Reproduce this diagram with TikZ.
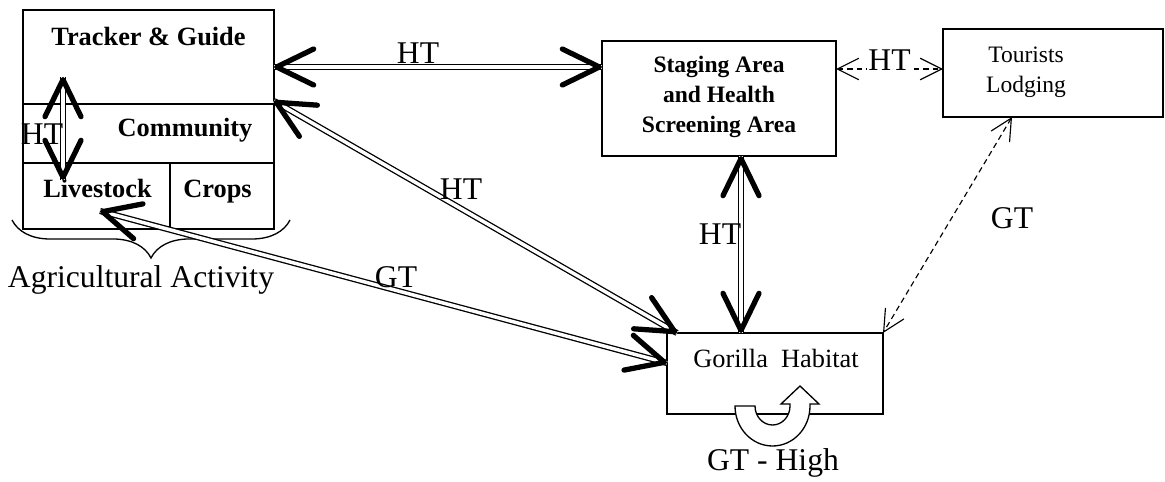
\documentclass[tikz,border=0pt]{standalone}
\usepackage{fontspec}
\setmainfont{Liberation Serif}
\usetikzlibrary{arrows.meta, calc, decorations.markings, decorations.pathreplacing}
\tikzset{
	cell/.style={draw, line width=0.75pt, inner sep=0pt, outer sep=0pt},
	boldtext/.style={font=\fontsize{15}{17.3}\selectfont\bfseries, inner sep=0pt},
	plaintext/.style={font=\fontsize{15}{17.3}\selectfont, inner sep=0pt},
	smalltext/.style={font=\fontsize{13.4}{17.3}\selectfont, inner sep=0pt},
	biglabel/.style={font=\fontsize{18}{20}\selectfont, inner sep=0pt}
}
\tikzset{
	barbthin/.tip={Straight Barb[length=0.43cm, width=0.43cm]},
	barbthick/.tip={Straight Barb[length=0.74cm, width=0.72cm, round]},
	dline/.style={double, line width=0.75pt, double distance=2pt},
	heads/.style={decorate, decoration={markings,
		mark=at position 0 with {\arrowreversed[line width=3pt]{barbthick}},
		mark=at position 1 with {\arrow[line width=3pt]{barbthick}}}},
	dashline/.style={line width=0.65pt, dash pattern=on 3.2pt off 2.2pt, barbthin-barbthin}
}

\begin{document}
\begin{tikzpicture}[x=0.02cm, y=-0.02cm]
      \useasboundingbox (0,0) rectangle (1165,482);
      % agricultural block
      \node[cell, minimum width=5.02cm, minimum height=1.88cm] (trk) at (148.5,57) {};
      \node[cell, minimum width=5.02cm, minimum height=1.18cm] (comm) at (148.5,133.5) {};
      \node[cell, minimum width=2.94cm, minimum height=1.32cm] (live) at (96.5,196) {};
      \node[cell, minimum width=2.08cm, minimum height=1.32cm] (crop) at (222,196) {};
      \node[boldtext, anchor=base] (trkT) at (148.5,46) {Tracker \& Guide};
      \node[boldtext, anchor=base] (commT) at (185,137) {Community};
      \node[boldtext, anchor=base] (liveT) at (97.5,198) {Livestock};
      \node[boldtext, anchor=base] (cropT) at (217.5,198) {Crops};
      \draw[line width=0.75pt, decorate, decoration={brace, amplitude=0.76cm}] (290,220) -- (12,220);
      \node[biglabel, anchor=base] (agri) at (141,288) {Agricultural Activity};
      % other boxes
      \node[cell, minimum width=4.68cm, minimum height=2.3cm] (stg) at (719,98.5) {};
      \node[smalltext, font=\fontsize{13.4}{17.3}\selectfont\bfseries, align=center] (stgT) at (719,97) {Staging Area\\and Health\\Screening Area};
      \node[cell, minimum width=4.4cm, minimum height=1.76cm] (tour) at (1053,73) {};
      \node[smalltext, anchor=base] (tourA) at (1026,63) {Tourists};
      \node[smalltext, anchor=base] (tourB) at (1026,93) {Lodging};
      \node[cell, minimum width=4.32cm, minimum height=1.62cm] (gor) at (775,373.5) {};
      \node[plaintext, anchor=base] (gorT) at (776,368) {Gorilla\ \ Habitat};
      \draw[line width=0.75pt, fill=white] (735,406) arc[start angle=180, end angle=0, x radius=37.5, y radius=40]
        -- (810,404) -- (819,404) -- (800,386) -- (781,404) -- (790,404) -- (790,406)
        arc[start angle=0, end angle=180, x radius=17.5, y radius=19] -- cycle;
      % connector ends
      \coordinate (trkR) at (274,67);
      \coordinate (stgL) at (602,67);
      \coordinate (commR) at (274,101);
      \coordinate (gorNW) at (677,333);
      \coordinate (liveP) at (100,211);
      \coordinate (gorW) at (667,363);
      \coordinate (stgS) at (741,156);
      \coordinate (gorN) at (741,333);
      \coordinate (trkUp) at (63,77);
      \coordinate (liveUp) at (63,180);
      \coordinate (stgE) at (836,69);
      \coordinate (tourW) at (943,69);
      \coordinate (tourS) at (1012,117);
      \coordinate (gorNE) at (883,333);
      \foreach \a/\b in {trkR/stgL, commR/gorNW, liveP/gorW, stgS/gorN, trkUp/liveUp} {
        \draw[dline] (\a) -- (\b);
        \path[heads] (\a) -- (\b);
      }
      \draw[dashline] (stgE) -- node[biglabel, fill=white, inner sep=0.6pt, anchor=base, yshift=-1pt] (htD) {HT} (tourW);
      \draw[dashline] (tourS) -- (gorNE);
      % labels
      \node[biglabel, anchor=base] (htA) at (418,64) {HT};
      \node[biglabel, anchor=base] (htB) at (461,200) {HT};
      \node[biglabel, anchor=base] (gtA) at (396,288) {GT};
      \node[biglabel, anchor=base] (htC) at (720,245) {HT};
      \node[biglabel, anchor=base] (htE) at (42,145) {HT};
      \node[biglabel, anchor=base] (gtD) at (1012,229) {GT};
      \node[biglabel, anchor=base] (gtH) at (773,470) {GT - High};
    \end{tikzpicture}
\end{document}
